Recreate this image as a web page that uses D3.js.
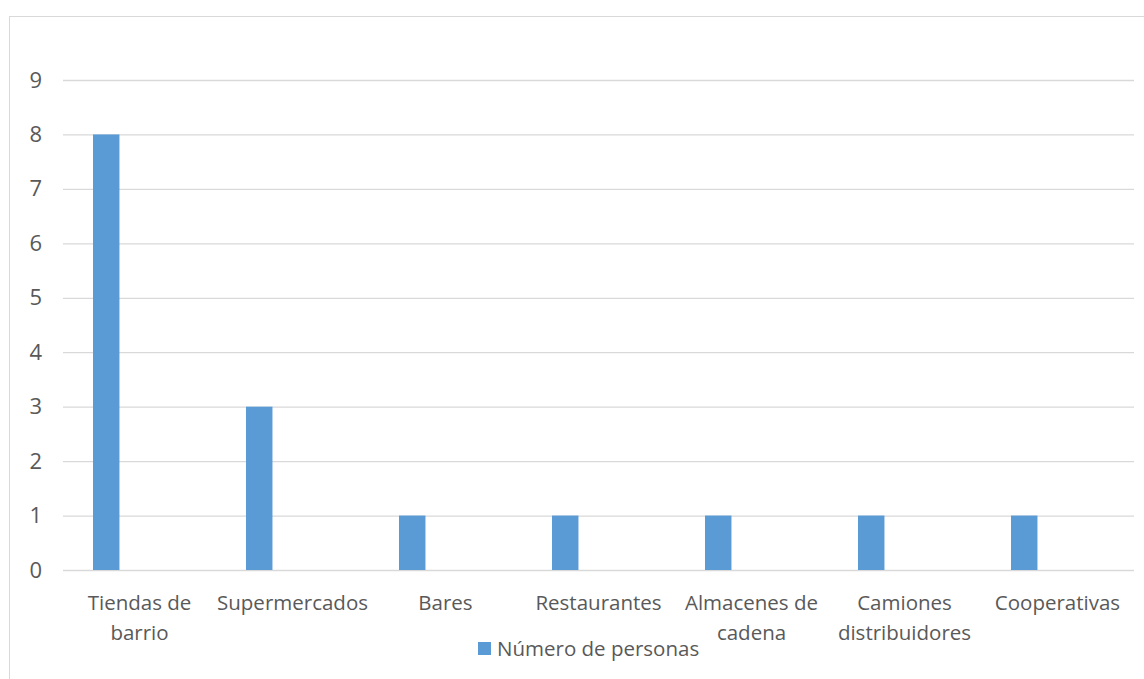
<!DOCTYPE html>
<html>
<head>
<meta charset="utf-8">
<script src="https://cdn.jsdelivr.net/npm/d3@7"></script>
<style>
  body { margin: 0; background: #fff; }
  text { font-family: "Open Sans", "Noto Sans", sans-serif; fill: #595959; }
</style>
</head>
<body>
<svg width="1144" height="679"></svg>
<script>
const categories = [
  ["Tiendas de", "barrio"],
  ["Supermercados"],
  ["Bares"],
  ["Restaurantes"],
  ["Almacenes de", "cadena"],
  ["Camiones", "distribuidores"],
  ["Cooperativas"]
];
const values = [8, 3, 1, 1, 1, 1, 1];
const yTicks = [0, 1, 2, 3, 4, 5, 6, 7, 8, 9];
const seriesName = "Número de personas";

const svg = d3.select("svg"),
      margin = {top: 80, right: 10, bottom: 109, left: 63},
      width = 1134 - margin.left,
      height = 570 - margin.top;

// chart frame
svg.append("rect")
    .attr("x", 9.5).attr("y", 16.5)
    .attr("width", 1160).attr("height", 700)
    .attr("fill", "none")
    .attr("stroke", "#d9d9d9");

const g = svg.append("g")
    .attr("transform", `translate(${margin.left},${margin.top})`);

const x = d3.scaleBand()
    .domain(d3.range(categories.length))
    .range([0, width]);

const y = d3.scaleLinear()
    .domain([0, 9])
    .range([height, 0]);

// Gridlines
g.append("g")
    .call(d3.axisLeft(y).tickValues(yTicks).tickSize(-width).tickFormat(""))
    .call(a => a.select(".domain").remove())
    .call(a => a.selectAll("line").attr("stroke", "#d9d9d9").attr("stroke-width", 1.3));

// Y labels
g.append("g")
    .attr("font-size", 22)
    .call(d3.axisLeft(y).tickValues(yTicks).tickSize(0).tickPadding(21))
    .call(a => a.select(".domain").remove())
    .call(a => a.selectAll("text")
        .attr("font-size", 22)
        .style("font-size", "22px")
        .style("fill", "#595959")
        .style("font-family", "'Open Sans', sans-serif"));

// Bars
const barW = x.bandwidth() * 0.173;
g.selectAll(".bar")
    .data(values)
    .enter().append("rect")
    .attr("class", "bar")
    .attr("x", (d, i) => x(i) + x.bandwidth() * 0.196)
    .attr("y", d => y(d))
    .attr("width", barW)
    .attr("height", d => height - y(d))
    .attr("fill", "#5b9bd5");

// X labels
const xl = g.selectAll(".xlab")
    .data(categories)
    .enter().append("text")
    .attr("class", "xlab")
    .attr("text-anchor", "middle")
    .attr("x", (d, i) => x(i) + x.bandwidth() / 2)
    .attr("y", height + 40)
    .style("font-size", "20.5px");

xl.selectAll("tspan")
    .data(d => d)
    .enter().append("tspan")
    .attr("x", function() { return this.parentNode.getAttribute("x"); })
    .attr("dy", (d, i) => i === 0 ? 0 : 30)
    .text(d => d);

// Legend
const legend = svg.append("g")
    .attr("transform", "translate(478,642)");

legend.append("rect")
    .attr("width", 13)
    .attr("height", 13)
    .attr("fill", "#5b9bd5");

legend.append("text")
    .attr("x", 19)
    .attr("y", 14)
    .style("font-size", "20.5px")
    .text(seriesName);
</script>
</body>
</html>
